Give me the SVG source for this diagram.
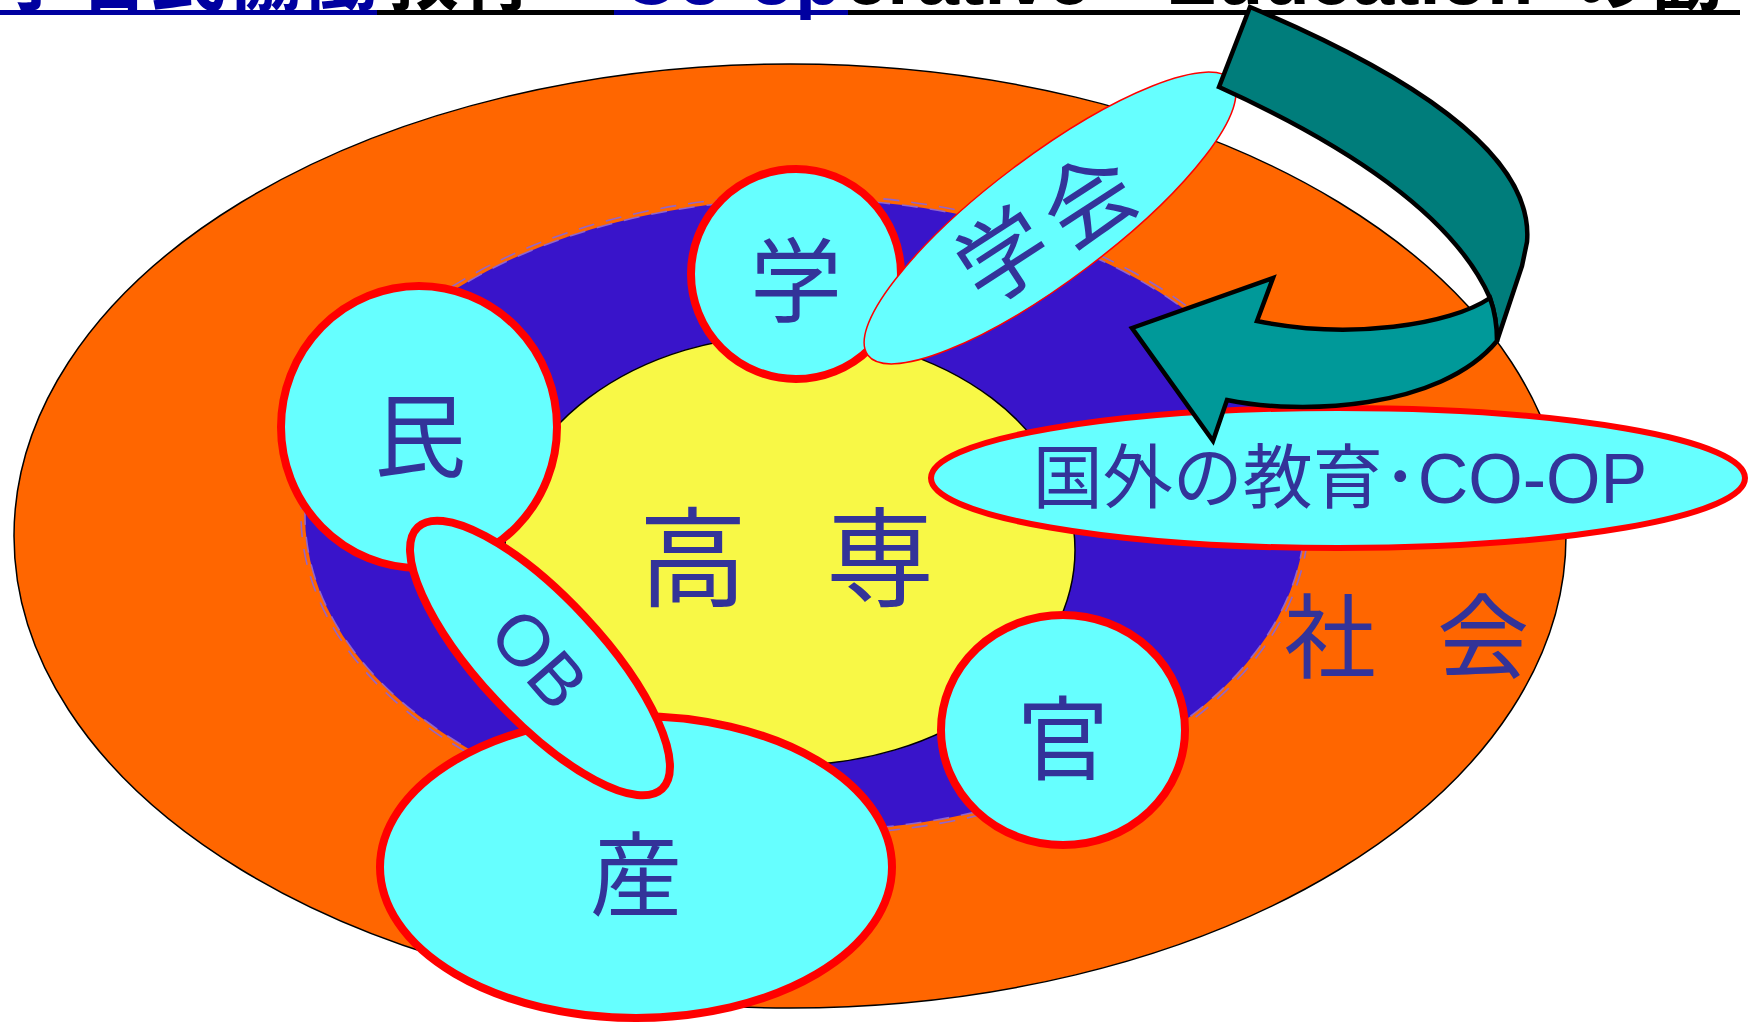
<svg xmlns="http://www.w3.org/2000/svg" width="1757" height="1024" viewBox="0 0 1757 1024">
<style>
.lbl{font-family:"Liberation Sans","Noto Sans CJK JP",sans-serif;fill:#333399;text-anchor:middle}
.node{fill:#66FFFF;stroke:#FF0000;stroke-width:8}
.title{font-family:"Liberation Sans","Noto Sans CJK JP",sans-serif;font-size:76px;font-weight:bold}
.dash{fill:none;stroke:#9366C8;stroke-width:1.6;stroke-dasharray:16 12}
.arrow{stroke:#000;stroke-width:4.5;stroke-linejoin:miter}
</style>
<rect width="1757" height="1024" fill="#FFFFFF"/>
<g id="title">
<text class="title" x="378" y="4" text-anchor="end" fill="#0000A0">産学官民協働</text>
<text class="title" x="383" y="4" fill="#000000">教育 “</text>
<text class="title" x="622" y="4" fill="#0000A0">Co-op</text>
<text class="title" x="845" y="4" fill="#000000">erative　Education”の勧</text>
<rect x="0" y="10" width="377" height="5" fill="#0000A0"/>
<rect x="377" y="10" width="237" height="5" fill="#000000"/>
<rect x="614" y="10" width="234" height="5" fill="#0000A0"/>
<rect x="848" y="10" width="892" height="5" fill="#000000"/>
</g>
<g id="society">
<ellipse cx="790" cy="536" rx="776" ry="472" fill="#FF6600" stroke="#000" stroke-width="1.5"/>
<text class="lbl" font-size="92" x="1330" y="671">社</text>
<text class="lbl" font-size="92" x="1483" y="671">会</text>
</g>
<g id="ring">
<ellipse cx="805" cy="515" rx="500" ry="316" fill="#3914CA"/>
<ellipse class="dash" cx="805" cy="515" rx="500" ry="316"/>
<ellipse class="dash" cx="805" cy="515" rx="504" ry="320"/>
</g>
<g id="kosen">
<ellipse cx="790" cy="550" rx="285" ry="215" fill="#F8F846" stroke="#000" stroke-width="1.5"/>
<text class="lbl" font-size="108" x="693" y="598">高</text>
<text class="lbl" font-size="108" x="880" y="598">専</text>
</g>
<g id="gaku">
<circle class="node" cx="796" cy="274" r="105"/>
<text class="lbl" font-size="92" x="796" y="315">学</text>
</g>
<g id="gakkai">
<ellipse cx="1050" cy="218" rx="228" ry="62" transform="rotate(-37 1050 218)" fill="#66FFFF" stroke="#FF0000" stroke-width="1.5"/>
<text class="lbl" font-size="90" letter-spacing="12" transform="translate(1046 228) rotate(-33)" x="6" y="33">学会</text>
</g>
<g id="san">
<ellipse class="node" cx="636" cy="867" rx="256" ry="151"/>
<text class="lbl" font-size="92" x="636" y="909">産</text>
</g>
<g id="min">
<ellipse class="node" cx="419" cy="427" rx="138" ry="141"/>
<text class="lbl" font-size="92" x="420" y="470">民</text>
</g>
<g id="ob">
<ellipse class="node" cx="540" cy="658" rx="179" ry="61" transform="rotate(47 540 658)"/>
<text class="lbl" font-size="72" transform="translate(540 658) rotate(49)" x="0" y="26">OB</text>
</g>
<g id="kan">
<ellipse class="node" cx="1063" cy="730" rx="122" ry="115"/>
<text class="lbl" font-size="92" x="1063" y="773">官</text>
</g>
<g id="kokugai">
<ellipse cx="1338" cy="478" rx="407" ry="70" fill="#66FFFF" stroke="#FF0000" stroke-width="6"/>
<text class="lbl" font-size="70" x="1340" y="503">国外の教育･CO-OP</text>
</g>
<g id="connectors">
<path class="arrow" fill="#007D7B" d="M1250,7 C1395,68 1535,150 1527,242 L1522,266 L1497,341 C1497,325 1495,312 1490,298 C1460,230 1380,160 1219,87 Z"/>
<path class="arrow" fill="#009999" d="M1490,298 C1450,325 1350,340 1257,321 L1273,278 L1132,328 L1213,441 L1227,400 C1300,415 1440,410 1497,341 C1497,325 1495,312 1490,298 Z"/>
</g>
</svg>
